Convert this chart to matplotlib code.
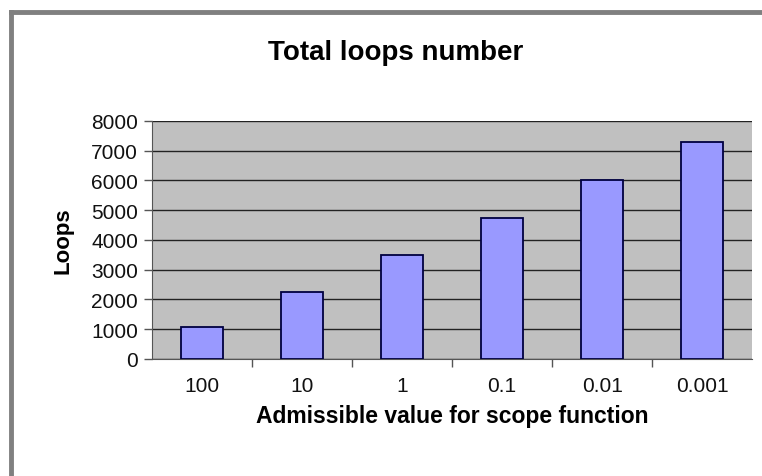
import matplotlib.pyplot as plt
from matplotlib.lines import Line2D

# dados do grafico
categorias = ["100", "10", "1", "0.1", "0.01", "0.001"]
loops = [1080, 2240, 3500, 4750, 6000, 7300]
yticks = [0, 1000, 2000, 3000, 4000, 5000, 6000, 7000, 8000]

plt.rcParams["font.family"] = ["Liberation Sans", "DejaVu Sans"]

fig = plt.figure(figsize=(7.62, 4.77), dpi=100)
ax = fig.add_axes([0.1995, 0.2453, 0.7875, 0.4990])

ax.set_facecolor("#c0c0c0")
x = list(range(len(categorias)))
ax.bar(x, loops, width=0.42, color="#9999ff", edgecolor="#000040", linewidth=1.3, zorder=3)

ax.set_xlim(-0.5, len(categorias) - 0.5)
ax.set_ylim(0, 8000)
ax.set_yticks(yticks)
ax.set_yticklabels([str(v) for v in yticks], fontsize=15, color="#111111")
ax.grid(axis="y", color="#222222", linewidth=1, zorder=1)

# rotulos no centro, marcas nas divisoes
ax.set_xticks(x)
ax.set_xticklabels(categorias, fontsize=15, color="#111111")
ax.tick_params(axis="x", length=0, pad=12)
ax.set_xticks([i + 0.5 for i in x[:-1]], minor=True)
ax.tick_params(axis="x", which="minor", length=6, width=1, color="#555555", direction="out")
ax.tick_params(axis="y", length=6, width=1, color="#555555", pad=4)

for s in ["top", "right"]:
    ax.spines[s].set_visible(False)
ax.spines["left"].set_color("#555555")
ax.spines["bottom"].set_color("#555555")

ax.set_xlabel("Admissible value for scope function", fontsize=16.5, fontweight="bold", labelpad=7)
ax.set_ylabel("Loops", fontsize=16, fontweight="bold", labelpad=13)
fig.text(0.519, 0.888, "Total loops number", ha="center", va="center", fontsize=20, fontweight="bold")

# moldura cinza
fig.add_artist(Line2D([0.015, 1.0], [0.973, 0.973], transform=fig.transFigure, color="#808080", linewidth=3.5))
fig.add_artist(Line2D([0.015, 0.015], [0.0, 0.973], transform=fig.transFigure, color="#808080", linewidth=3.5))

fig.savefig("out.png", dpi=100)
